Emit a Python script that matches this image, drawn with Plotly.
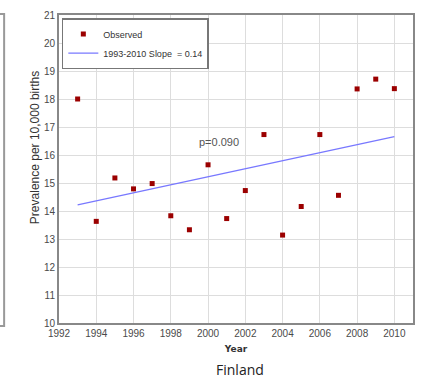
import plotly.graph_objects as go

years = [1993, 1994, 1995, 1996, 1997, 1998, 1999, 2000, 2001, 2002,
         2003, 2004, 2005, 2006, 2007, 2008, 2009, 2010]
prevalence = [18.0, 13.63, 15.18, 14.79, 14.98, 13.83, 13.33, 15.65, 13.73, 14.73,
              16.73, 13.14, 14.16, 16.73, 14.56, 18.36, 18.71, 18.37]
trend_years = [1993, 2010]
trend_values = [14.22, 16.66]
x_ticks = [1992, 1994, 1996, 1998, 2000, 2002, 2004, 2006, 2008, 2010]
y_ticks = list(range(10, 22))

tick_font = dict(family="Liberation Sans, Arial", size=10, color="#4a4a4a")

fig = go.Figure()
fig.add_trace(go.Scatter(
    x=years, y=prevalence, mode="markers", name="Observed",
    marker=dict(symbol="square", size=5, color="#9b0000"),
))
fig.add_trace(go.Scatter(
    x=trend_years, y=trend_values, mode="lines", name="1993-2010 Slope  = 0.14",
    line=dict(color="#7878ff", width=1.3),
))

fig.add_annotation(x=2000.6, y=16.45, text="p=0.090", showarrow=False,
                   font=dict(family="Liberation Sans, Arial", size=11, color="#555"))

fig.update_layout(
    width=424, height=383,
    margin=dict(l=59, r=9, t=13, b=60),
    paper_bgcolor="white", plot_bgcolor="white",
    showlegend=True,
    legend=dict(
        x=0.008, y=0.99, xanchor="left", yanchor="top",
        bgcolor="white", bordercolor="#777", borderwidth=1.5,
        font=dict(family="Liberation Sans, Arial", size=9, color="#333"),
        tracegroupgap=0, itemwidth=30,
    ),
    xaxis=dict(
        range=[1992, 2011], tickvals=x_ticks, ticktext=[str(v) for v in x_ticks],
        showgrid=True, gridcolor="#dddddd", gridwidth=1,
        showline=True, linecolor="#888", linewidth=2, mirror=True,
        ticks="", tickfont=tick_font, zeroline=False,
        title=dict(text="<b>Year</b>", font=dict(family="DejaVu Sans", size=9, color="#333"), standoff=8),
    ),
    yaxis=dict(
        range=[10, 21], tickvals=y_ticks,
        showgrid=True, gridcolor="#dddddd", gridwidth=1,
        showline=True, linecolor="#888", linewidth=2, mirror=True,
        ticks="", tickfont=tick_font, zeroline=False,
    ),
)

fig.add_annotation(xref="paper", yref="paper", x=-0.093, y=0.568, textangle=-90,
                   text="Prevalence per 10,000 births", showarrow=False,
                   font=dict(family="Liberation Sans, Arial", size=12, color="#333"))

fig.add_annotation(xref="paper", yref="paper", x=0.51, y=-0.152, yanchor="middle",
                   text="Finland", showarrow=False,
                   font=dict(family="Open Sans, Noto Sans", size=14, color="#222"))

# fragment of neighbouring panel frame at left edge
fig.add_shape(type="path", xref="paper", yref="paper",
              path="M -0.18 1.003 L -0.155 1.003 L -0.155 -0.01 L -0.18 -0.01",
              line=dict(color="#999", width=2))

fig.write_html("out.html")
